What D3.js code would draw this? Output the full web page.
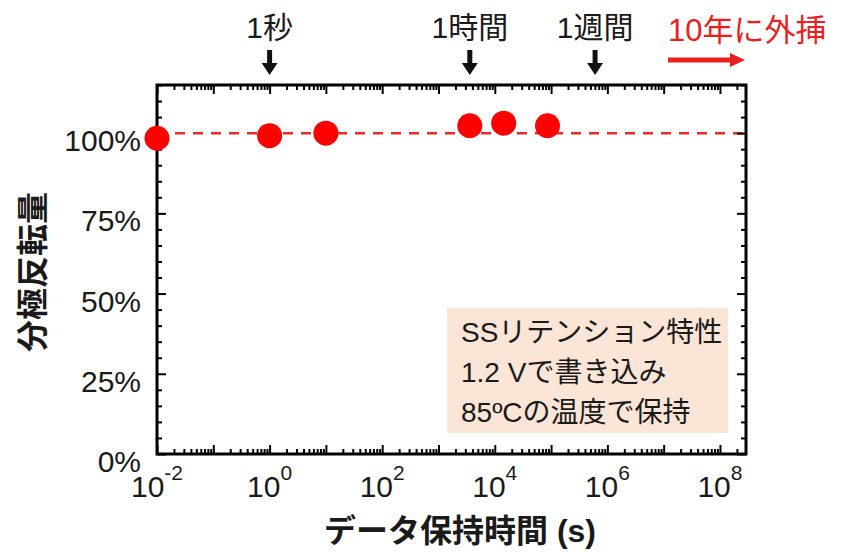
<!DOCTYPE html>
<html>
<head>
<meta charset="utf-8">
<script src="https://cdn.jsdelivr.net/npm/d3@7"></script>
<style>
  body { margin: 0; background: #fff; }
  text { font-family: "Liberation Sans", Arial, "Noto Sans CJK JP", sans-serif; }
</style>
</head>
<body>
<svg id="chart" width="842" height="552"></svg>
<script>
// data retention (s) vs polarization switched
var times = [0.01, 1, 10, 3600, 14400, 86400];
var polarization = [98.4, 99.2, 100, 102.3, 103.1, 102.3];

var xTickExponents = [-2, 0, 2, 4, 6, 8];
var yTicks = [0, 25, 50, 75, 100];

var eventLabels = ["1秒", "1時間", "1週間"];
var eventTimes = [1, 3600, 604800];

var boxLines = ["SSリテンション特性", "1.2 Vで書き込み", "85ºCの温度で保持"];
var extrapLabel = "10年に外挿";
var xTitle = "データ保持時間 (s)";
var yTitle = "分極反転量";

var svg = d3.select("#chart");

var x = d3.scaleLog().domain([1e-2, 2.9e8]).range([157, 746]);
var y = d3.scaleLinear().domain([0, 115]).range([454, 85]);

var x0 = x.range()[0], x1 = x.range()[1];
var y0 = y.range()[0], y1 = y.range()[1];

// tick positions
var decades = d3.range(-2, 9).map(function(e) { return Math.pow(10, e); });
var minorX = [];
decades.forEach(function(d) {
  for (var k = 2; k <= 9; k++) {
    if (d * k <= x.domain()[1]) minorX.push(d * k);
  }
});
var minorY = d3.range(0, 116, 5).filter(function(v) { return v % 25 != 0; });

// annotation box
svg.append("rect")
    .attr("x", 447).attr("y", 308)
    .attr("width", 281).attr("height", 125)
    .attr("fill", "#fbe5d6");

svg.selectAll(".boxline")
    .data(boxLines)
  .enter().append("text")
    .attr("class", "boxline")
    .attr("x", 461)
    .attr("y", function(d, i) { return 342 + i * 40; })
    .attr("font-size", "28px")
    .attr("fill", "#1a1a1a")
    .text(function(d) { return d; });

// 100% reference line
svg.append("line")
    .attr("x1", x0).attr("x2", x1)
    .attr("y1", y(100)).attr("y2", y(100))
    .attr("stroke", "#ec2a2a")
    .attr("stroke-width", 2.5)
    .attr("stroke-dasharray", "10,8");

// axes, ticks inward
function styleAxis(g) {
  g.select(".domain").remove();
  g.selectAll(".tick line").attr("stroke", "#000").attr("stroke-width", 2);
  g.selectAll(".tick text").remove();
}

svg.append("g").attr("transform", "translate(0," + y0 + ")")
    .call(d3.axisBottom(x).tickValues(decades).tickSize(-9).tickFormat("")).call(styleAxis);
svg.append("g").attr("transform", "translate(0," + y0 + ")")
    .call(d3.axisBottom(x).tickValues(minorX).tickSize(-5).tickFormat("")).call(styleAxis);
svg.append("g").attr("transform", "translate(0," + y1 + ")")
    .call(d3.axisTop(x).tickValues(decades).tickSize(-9).tickFormat("")).call(styleAxis);
svg.append("g").attr("transform", "translate(0," + y1 + ")")
    .call(d3.axisTop(x).tickValues(minorX).tickSize(-5).tickFormat("")).call(styleAxis);

svg.append("g").attr("transform", "translate(" + x0 + ",0)")
    .call(d3.axisLeft(y).tickValues(yTicks).tickSize(-9).tickFormat("")).call(styleAxis);
svg.append("g").attr("transform", "translate(" + x0 + ",0)")
    .call(d3.axisLeft(y).tickValues(minorY).tickSize(-5).tickFormat("")).call(styleAxis);
svg.append("g").attr("transform", "translate(" + x1 + ",0)")
    .call(d3.axisRight(y).tickValues(yTicks).tickSize(-9).tickFormat("")).call(styleAxis);
svg.append("g").attr("transform", "translate(" + x1 + ",0)")
    .call(d3.axisRight(y).tickValues(minorY).tickSize(-5).tickFormat("")).call(styleAxis);

// frame
svg.append("rect")
    .attr("x", x0).attr("y", y1)
    .attr("width", x1 - x0).attr("height", y0 - y1)
    .attr("fill", "none")
    .attr("stroke", "#000")
    .attr("stroke-width", 3);

// tick labels
var xl = svg.selectAll(".xlab")
    .data(xTickExponents)
  .enter().append("text")
    .attr("class", "xlab")
    .attr("x", function(e) { return x(Math.pow(10, e)); })
    .attr("y", 497)
    .attr("text-anchor", "middle")
    .attr("font-size", "30px")
    .attr("fill", "#1a1a1a");
xl.append("tspan").text("10");
xl.append("tspan").attr("dy", -17).attr("font-size", "21px").text(function(e) { return e; });

svg.selectAll(".ylab")
    .data(yTicks)
  .enter().append("text")
    .attr("class", "ylab")
    .attr("x", 141)
    .attr("y", function(d) { return y(d) + 18; })
    .attr("text-anchor", "end")
    .attr("font-size", "30px")
    .attr("fill", "#1a1a1a")
    .text(function(d) { return d + "%"; });

// axis titles
svg.append("text")
    .attr("x", 460).attr("y", 542)
    .attr("text-anchor", "middle")
    .attr("font-size", "32px")
    .attr("font-weight", "bold")
    .attr("fill", "#1a1a1a")
    .text(xTitle);

svg.append("text")
    .attr("transform", "translate(44,272) rotate(-90)")
    .attr("text-anchor", "middle")
    .attr("font-size", "32px")
    .attr("font-weight", "bold")
    .attr("fill", "#1a1a1a")
    .text(yTitle);

// time markers on top
svg.selectAll(".evlab")
    .data(eventLabels)
  .enter().append("text")
    .attr("class", "evlab")
    .attr("x", function(d, i) { return x(eventTimes[i]); })
    .attr("y", 38)
    .attr("text-anchor", "middle")
    .attr("font-size", "30px")
    .attr("fill", "#1a1a1a")
    .text(function(d) { return d; });

svg.selectAll(".evarrow")
    .data(eventTimes)
  .enter().append("path")
    .attr("class", "evarrow")
    .attr("fill", "#111")
    .attr("d", function(t) {
      var cx = x(t);
      return "M" + (cx - 2.5) + ",50 L" + (cx + 2.5) + ",50 L" + (cx + 2.5) + ",63 L" + (cx + 8) + ",63 L" + cx + ",75 L" + (cx - 8) + ",63 L" + (cx - 2.5) + ",63 Z";
    });

// extrapolation arrow
svg.append("text")
    .attr("x", 668).attr("y", 41)
    .attr("font-size", "31px")
    .attr("fill", "#e8201e")
    .text(extrapLabel);

svg.append("line")
    .attr("x1", 668).attr("x2", 732)
    .attr("y1", 60).attr("y2", 60)
    .attr("stroke", "#e8201e")
    .attr("stroke-width", 5);
svg.append("path")
    .attr("d", "M730,53 L745,60 L730,67 Z")
    .attr("fill", "#e8201e");

// data points
svg.selectAll(".pt")
    .data(times)
  .enter().append("circle")
    .attr("class", "pt")
    .attr("cx", function(d) { return x(d); })
    .attr("cy", function(d, i) { return y(polarization[i]); })
    .attr("r", 12.5)
    .attr("fill", "#ff0000");
</script>
</body>
</html>
